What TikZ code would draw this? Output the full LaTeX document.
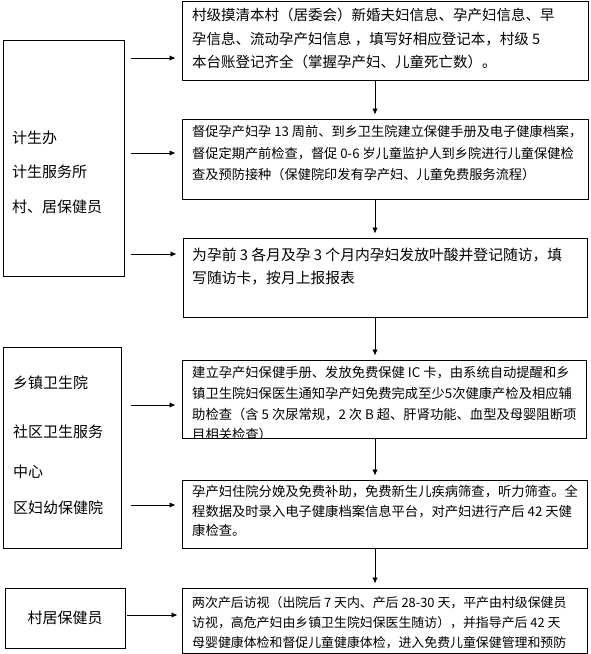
\documentclass[tikz,border=0pt]{standalone}
\usepackage{fontspec}
\setmainfont{Noto Sans CJK SC}
\usetikzlibrary{arrows.meta}
\begin{document}
\begin{tikzpicture}[x=1pt,y=1pt,
  box/.style={draw, line width=1pt, inner sep=0pt},
  txt/.style={anchor=north west, inner sep=0pt, align=left},
  arr/.style={-{Latex[length=6pt,width=5.5pt]}, line width=0.8pt},
  fa/.style={font=\fontsize{14.5}{23.5}\selectfont},
  fb/.style={font=\fontsize{13.2}{21.5}\selectfont},
  fc/.style={font=\fontsize{14.8}{23}\selectfont},
  fd/.style={font=\fontsize{13.3}{20.6}\selectfont},
  fe/.style={font=\fontsize{13.3}{19.5}\selectfont},
  ff/.style={font=\fontsize{12.9}{20}\selectfont},
  fl/.style={font=\fontsize{15}{34.5}\selectfont}]
\useasboundingbox (0,0) rectangle (591,-654);

% right boxes
\node[box, minimum width=406, minimum height=79] (B1) at (385,-40.5) {};
\node[box, minimum width=406, minimum height=80] (B2) at (385,-159) {};
\node[box, minimum width=404, minimum height=79] (B3) at (385,-277.5) {};
\node[box, minimum width=404, minimum height=78] (B4) at (384,-399) {};
\node[box, minimum width=405, minimum height=68] (B5) at (384.5,-514) {};
\node[box, minimum width=405, minimum height=65] (B6) at (384.5,-620.5) {};

% left boxes
\node[box, minimum width=121, minimum height=236] (L1) at (63.5,-158) {};
\node[box, minimum width=118, minimum height=201] (L2) at (62,-447.5) {};
\node[box, minimum width=120, minimum height=60] (L3) at (65,-618) {};

% right texts
\node[txt, fa] (T1) at (192,-8) {村级摸清本村（居委会）新婚夫妇信息、孕产妇信息、早\\孕信息、流动孕产妇信息 ，填写好相应登记本，村级 5\\本台账登记齐全（掌握孕产妇、儿童死亡数）。};
\node[txt, fb] (T2) at (192,-125.4) {督促孕产妇孕 13 周前、到乡卫生院建立保健手册及电子健康档案，\\督促定期产前检查，督促 0-6 岁儿童监护人到乡院进行儿童保健检\\查及预防接种（保健院印发有孕产妇、儿童免费服务流程）};
\node[txt, fc] (T3) at (192,-247.5) {为孕前 3 各月及孕 3 个月内孕妇发放叶酸并登记随访，填\\写随访卡，按月上报报表};
\begin{scope}
\clip (B4.south west) rectangle (B4.north east);
\node[txt, fd] (T4) at (192,-366.5) {建立孕产妇保健手册、发放免费保健 IC 卡，由系统自动提醒和乡\\镇卫生院妇保医生通知孕产妇免费完成至少5次健康产检及相应辅\\助检查（含 5 次尿常规，2 次 B 超、肝肾功能、血型及母婴阻断项\\目相关检查）};
\end{scope}
\node[txt, fe] (T5) at (192,-485.3) {孕产妇住院分娩及免费补助，免费新生儿疾病筛查，听力筛查。全\\程数据及时录入电子健康档案信息平台，对产妇进行产后 42 天健\\康检查。};
\node[txt, ff] (T6) at (192,-596.5) {两次产后访视（出院后 7 天内、产后 28-30 天，平产由村级保健员\\访视，高危产妇由乡镇卫生院妇保医生随访），并指导产后 42 天\\母婴健康体检和督促儿童健康体检，进入免费儿童保健管理和预防};

% left texts
\node[txt, fl] (LT1) at (12,-130.5) {计生办\\计生服务所\\村、居保健员};
\node[txt, fl, font=\fontsize{15}{36}\selectfont] (LT2) at (13,-375.5) {乡镇卫生院\\[13pt]社区卫生服务\\[4pt]中心\\区妇幼保健院};
\node[inner sep=0pt, font=\fontsize{15}{18}\selectfont] (LT3) at (L3.center) {村居保健员};

% horizontal arrows
\coordinate (h1) at (131,-58);
\coordinate (h2) at (131,-153);
\coordinate (h3) at (131,-254);
\coordinate (h4) at (131,-405);
\coordinate (h5) at (131,-505);
\coordinate (h6) at (127,-615);
\draw[arr, shorten >=6pt] (h1) -- (h1 -| B1.west);
\draw[arr, shorten >=6pt] (h2) -- (h2 -| B2.west);
\draw[arr, shorten >=6pt] (h3) -- (h3 -| B3.west);
\draw[arr, shorten >=6pt] (h4) -- (h4 -| B4.west);
\draw[arr, shorten >=6pt] (h5) -- (h5 -| B5.west);
\draw[arr, shorten >=4pt] (h6) -- (h6 -| B6.west);

% vertical arrows
\coordinate (vx) at (375,0);
\draw[arr, shorten >=4pt] (B1.south -| vx) -- (B2.north -| vx);
\draw[arr, shorten >=4pt] (B2.south -| vx) -- (B3.north -| vx);
\draw[arr, shorten >=4pt] (B3.south -| vx) -- (B4.north -| vx);
\draw[arr, shorten >=4pt] (B4.south -| vx) -- (B5.north -| vx);
\draw[arr, shorten >=4pt] (B5.south -| vx) -- (B6.north -| vx);
\end{tikzpicture}
\end{document}
